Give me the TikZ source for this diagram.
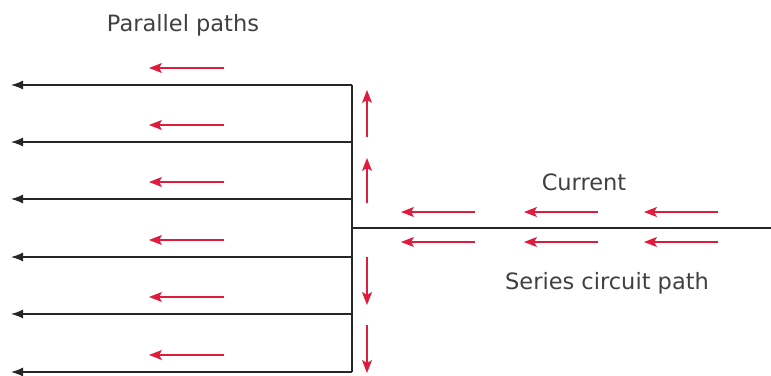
\documentclass[tikz,border=0pt]{standalone}
\usepackage{fontspec}
\setmainfont{DejaVu Sans}
\usetikzlibrary{arrows.meta}
\definecolor{flowred}{RGB}{224,28,62}

\begin{document}
\begin{tikzpicture}[x=1pt,y=-1pt,
		wire/.style={draw=black!85,line width=1.3pt,-{Latex[length=12pt,width=9pt]}},
		flow/.style={draw=flowred,line width=1.1pt,-{Stealth[length=13pt,width=10pt,inset=3pt]}},
		caption/.style={font=\fontsize{22.5}{27}\selectfont,text=black!75,inner sep=0pt}
		]
		\useasboundingbox (0,0) rectangle (771,375);
		% texts
		\node[caption] (parallel) at (183,25) {Parallel paths};
		\node[caption] (current) at (584,182) {Current};
		\node[caption] (series) at (607,283) {Series circuit path};
		% wires
		\coordinate (top) at (352,85);
		\coordinate (bot) at (352,372);
		\coordinate (join) at (352,228);
		\coordinate (feed) at (771,228);
		\draw[wire,-] (top) -- (bot);
		\draw[wire,-] (feed) -- (join);
		\foreach \y [count=\i] in {85,142,199,257,314,372} {
			\coordinate (r\i) at (352,\y);
			\coordinate (l\i) at (11,\y);
			\draw[wire] (r\i) -- (l\i);
			\coordinate (ft\i) at (224,\y-17);
			\coordinate (fh\i) at (149,\y-17);
			\draw[flow] (ft\i) -- (fh\i);
		}
		% up and down the junction
		\coordinate (u1) at (367,137);
		\coordinate (v1) at (367,90);
		\coordinate (u2) at (367,203);
		\coordinate (v2) at (367,158);
		\coordinate (d1) at (367,257);
		\coordinate (e1) at (367,305);
		\coordinate (d2) at (367,325);
		\coordinate (e2) at (367,373);
		\draw[flow] (u1) -- (v1);
		\draw[flow] (u2) -- (v2);
		\draw[flow] (d1) -- (e1);
		\draw[flow] (d2) -- (e2);
		% along the series path
		\foreach \a/\b [count=\i] in {718/644,598/524,475/401} {
			\coordinate (sa\i) at (\a,212);
			\coordinate (sb\i) at (\b,212);
			\coordinate (ta\i) at (\a,242);
			\coordinate (tb\i) at (\b,242);
			\draw[flow] (sa\i) -- (sb\i);
			\draw[flow] (ta\i) -- (tb\i);
		}
\end{tikzpicture}
\end{document}
